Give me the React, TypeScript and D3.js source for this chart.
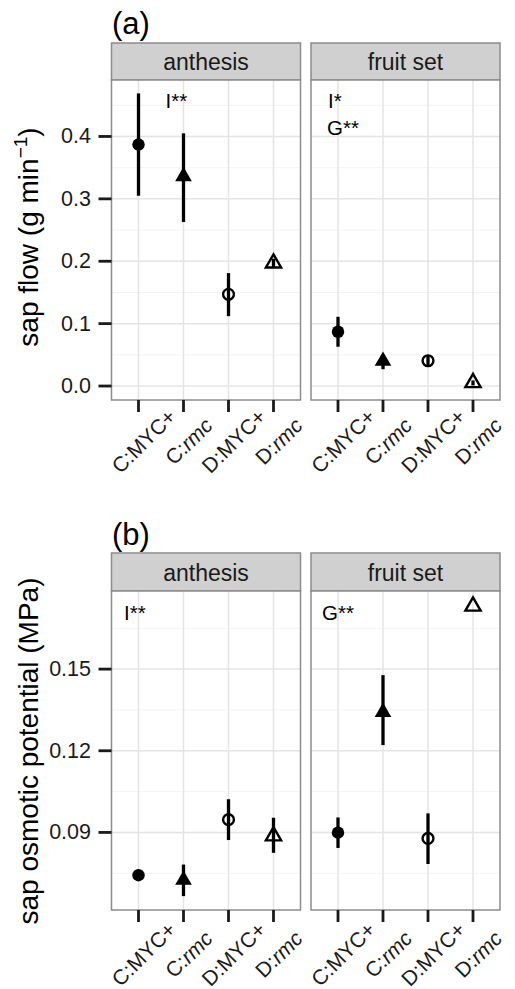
import React from "react";
import * as d3 from "d3";

const categories = ["C:MYC+", "C:rmc", "D:MYC+", "D:rmc"];
const facets = ["anthesis", "fruit set"];
const shapes = ["filledCircle", "filledTriangle", "openCircle", "openTriangle"];

// (a) sap flow (g min^-1)
const flowAnthesisMean = [0.387, 0.336, 0.147, 0.197];
const flowAnthesisLow = [0.305, 0.263, 0.112, 0.19];
const flowAnthesisHigh = [0.469, 0.405, 0.181, 0.204];
const flowFruitMean = [0.087, 0.04, 0.0405, 0.0053];
const flowFruitLow = [0.063, 0.027, 0.033, 0.001];
const flowFruitHigh = [0.111, 0.05, 0.048, 0.009];
const flowTicks = [0, 0.1, 0.2, 0.3, 0.4];
const flowMinor = [0.05, 0.15, 0.25, 0.35, 0.45];
const flowDomain = [-0.0224, 0.4905];

// (b) sap osmotic potential (MPa)
const osmAnthesisMean = [0.0743, 0.0725, 0.0947, 0.0887];
const osmAnthesisLow = [0.0735, 0.0666, 0.0872, 0.0825];
const osmAnthesisHigh = [0.0751, 0.0782, 0.1022, 0.0954];
const osmFruitMean = [0.0899, 0.1342, 0.0878, 0.1731];
const osmFruitLow = [0.0843, 0.1221, 0.0784, 0.1731];
const osmFruitHigh = [0.0955, 0.1478, 0.097, 0.1731];
const osmTicks = [0.09, 0.12, 0.15];
const osmMinor = [0.075, 0.105, 0.135, 0.165];
const osmDomain = [0.0615, 0.1787];

const FONT = "'Liberation Sans', Arial, Helvetica, sans-serif";
const W = 515;
const H = 989;
const panelLefts = [111.5, 311];
const panelWidth = 189;

function CatLabel({ name }: { name: string }) {
  const [pre, post] = name.split(":");
  if (post === "rmc") {
    return (
      <>
        {pre}:<tspan fontStyle="italic">{post}</tspan>
      </>
    );
  }
  return <>{name}</>;
}

function Marker({ shape, x, y }: { shape: string; x: number; y: number }) {
  const isTri = shape.includes("Triangle");
  const filled = shape.startsWith("filled");
  const path = d3
    .symbol()
    .type(isTri ? d3.symbolTriangle : d3.symbolCircle)
    .size(isTri ? (filled ? 120 : 100) : filled ? 122 : 92)();
  return (
    <path
      d={path || ""}
      transform={`translate(${x},${y})`}
      fill={filled ? "#000" : "none"}
      stroke="#000"
      strokeWidth={filled ? 0 : 2.4}
    />
  );
}

type FigProps = {
  tag: string;
  tagY: number;
  stripTop: number;
  panelTop: number;
  panelBottom: number;
  domain: number[];
  ticks: number[];
  minor: number[];
  tickFmt: (v: number) => string;
  means: number[][];
  lows: number[][];
  highs: number[][];
  notes: { text: string; dx: number; y: number }[][];
  labelY: number;
  title: React.ReactNode;
  titleY: number;
};

function Figure(p: FigProps) {
  const y = d3.scaleLinear().domain(p.domain).range([p.panelBottom, p.panelTop]);
  return (
    <g>
      <text x={112} y={p.tagY} fontSize={31} fontFamily={FONT} fill="#000">
        {p.tag}
      </text>
      {facets.map((facet, fi) => {
        const left = panelLefts[fi];
        const x = d3
          .scalePoint<string>()
          .domain(categories)
          .range([left, left + panelWidth])
          .padding(0.6);
        return (
          <g key={facet}>
            {/* strip */}
            <rect
              x={left}
              y={p.stripTop}
              width={panelWidth}
              height={p.panelTop - p.stripTop}
              fill="#d0d0d0"
              stroke="#8c8c8c"
              strokeWidth={1.5}
            />
            <text
              x={left + panelWidth / 2}
              y={(p.stripTop + p.panelTop) / 2 + 8.5}
              textAnchor="middle"
              fontSize={23}
              fontFamily={FONT}
              fill="#1a1a1a"
            >
              {facet}
            </text>
            {/* panel bg */}
            <rect x={left} y={p.panelTop} width={panelWidth} height={p.panelBottom - p.panelTop} fill="#fff" />
            {p.minor.map((v) => (
              <line key={"mi" + v} x1={left} x2={left + panelWidth} y1={y(v)} y2={y(v)} stroke="#f3f3f3" strokeWidth={1} />
            ))}
            {p.ticks.map((v) => (
              <line key={"ma" + v} x1={left} x2={left + panelWidth} y1={y(v)} y2={y(v)} stroke="#e4e4e4" strokeWidth={1.5} />
            ))}
            {categories.map((c) => (
              <line key={"gx" + c} x1={x(c)} x2={x(c)} y1={p.panelTop} y2={p.panelBottom} stroke="#e4e4e4" strokeWidth={1.5} />
            ))}
            {/* data */}
            {categories.map((c, i) => (
              <g key={"d" + c}>
                <line
                  x1={x(c)}
                  x2={x(c)}
                  y1={y(p.lows[fi][i])}
                  y2={y(p.highs[fi][i])}
                  stroke="#000"
                  strokeWidth={3.3}
                />
                <Marker shape={shapes[i]} x={x(c)!} y={y(p.means[fi][i])} />
              </g>
            ))}
            {/* notes */}
            {p.notes[fi].map((n) => (
              <text key={n.text} x={left + n.dx} y={n.y} fontSize={20.5} fontFamily={FONT} fill="#000">
                {n.text}
              </text>
            ))}
            {/* border */}
            <rect
              x={left}
              y={p.panelTop}
              width={panelWidth}
              height={p.panelBottom - p.panelTop}
              fill="none"
              stroke="#8c8c8c"
              strokeWidth={1.5}
            />
            {/* x ticks */}
            {categories.map((c) => (
              <g key={"xt" + c}>
                <line x1={x(c)} x2={x(c)} y1={p.panelBottom} y2={p.panelBottom + 12} stroke="#1a1a1a" strokeWidth={2.8} />
                <text
                  transform={`translate(${x(c)! + 5},${p.labelY}) rotate(-45)`}
                  textAnchor="middle"
                  dominantBaseline="central"
                  fontSize={21}
                  fontFamily={FONT}
                  fill="#1a1a1a"
                >
                  <CatLabel name={c} />
                </text>
              </g>
            ))}
          </g>
        );
      })}
      {/* y axis */}
      {p.ticks.map((v) => (
        <g key={"yt" + v}>
          <line x1={98.5} x2={111.5} y1={y(v)} y2={y(v)} stroke="#1a1a1a" strokeWidth={2.8} />
          <text x={91} y={y(v)} textAnchor="end" dominantBaseline="central" fontSize={21.5} fontFamily={FONT} fill="#1a1a1a">
            {p.tickFmt(v)}
          </text>
        </g>
      ))}
      <text
        transform={`translate(38,${p.titleY}) rotate(-90)`}
        textAnchor="middle"
        fontSize={28}
        fontFamily={FONT}
        fill="#000"
      >
        {p.title}
      </text>
    </g>
  );
}

export default function App() {
  return (
    <svg
      width={W}
      height={H}
      viewBox={`0 0 ${W} ${H}`}
      style={{ position: "absolute", left: 0, top: 0, background: "#fff" }}
    >
      <rect width={W} height={H} fill="#fff" />
      <Figure
        tag="(a)"
        tagY={34}
        stripTop={43}
        panelTop={80}
        panelBottom={400}
        domain={flowDomain}
        ticks={flowTicks}
        minor={flowMinor}
        tickFmt={d3.format(".1f")}
        means={[flowAnthesisMean, flowFruitMean]}
        lows={[flowAnthesisLow, flowFruitLow]}
        highs={[flowAnthesisHigh, flowFruitHigh]}
        notes={[
          [{ text: "I**", dx: 54, y: 108 }],
          [
            { text: "I*", dx: 17, y: 108 },
            { text: "G**", dx: 16, y: 135 },
          ],
        ]}
        labelY={441}
        title={
          <>
            sap flow (g min
            <tspan dy={-11} fontSize={19}>
              −1
            </tspan>
            <tspan dy={11}>)</tspan>
          </>
        }
        titleY={237}
      />
      <Figure
        tag="(b)"
        tagY={545}
        stripTop={553}
        panelTop={591}
        panelBottom={910}
        domain={osmDomain}
        ticks={osmTicks}
        minor={osmMinor}
        tickFmt={d3.format(".2f")}
        means={[osmAnthesisMean, osmFruitMean]}
        lows={[osmAnthesisLow, osmFruitLow]}
        highs={[osmAnthesisHigh, osmFruitHigh]}
        notes={[[{ text: "I**", dx: 12.5, y: 620 }], [{ text: "G**", dx: 11, y: 620 }]]}
        labelY={954}
        title={<>sap osmotic potential (MPa)</>}
        titleY={751}
      />
    </svg>
  );
}
